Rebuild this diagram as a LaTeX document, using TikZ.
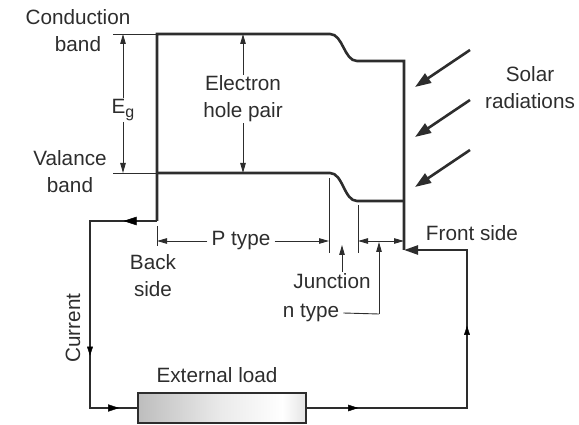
\documentclass[tikz,border=0pt]{standalone}
\usepackage{fontspec}
\setmainfont{Liberation Sans}
\usetikzlibrary{arrows.meta,decorations.markings}
\definecolor{ink}{RGB}{45,45,45}
\pgfdeclarehorizontalshading{loadshade}{100bp}{color(0bp)=(black!55); color(12bp)=(black!35); color(50bp)=(black!8); color(68bp)=(white); color(88bp)=(black!30); color(100bp)=(black!45)}
\tikzset{
  bandline/.style={draw=ink, line width=2.6pt, line join=miter},
  wire/.style={draw=ink, line width=2.4pt, line join=miter},
  thinline/.style={draw=ink, line width=0.9pt},
  thinarrow/.style={thinline, -{Triangle[length=10pt,width=5.5pt]}},
  thinboth/.style={thinline, {Triangle[length=10pt,width=5.5pt]}-{Triangle[length=10pt,width=5.5pt]}},
  lbl/.style={text=ink, font=\fontsize{20.7}{27}\selectfont, align=center, inner sep=1pt},
  sunray/.style={draw=ink, line width=2.6pt, -{Triangle[length=16pt,width=11pt]}},
  midarrow/.style 2 args={postaction={decorate}, decoration={markings,
      mark=at position #1 with {\arrow{Triangle[length=#2pt,width=0.65*#2pt]}}}},
}
\begin{document}
\begin{tikzpicture}[x=1pt,y=-1pt]
\useasboundingbox (0,0) rectangle (579,425);

% band diagram outline
\coordinate (bk) at (157,221);
\coordinate (tl) at (157,34);
\coordinate (cbA) at (330,34);
\coordinate (cbB) at (357,61);
\coordinate (tr) at (404,61);
\coordinate (fr) at (404,250);
\coordinate (vl) at (157,173);
\coordinate (vbA) at (330,173);
\coordinate (vbB) at (357,201);
\coordinate (vr) at (404,201);

\draw[bandline] (bk) -- (tl) -- (cbA) .. controls (343,34) and (344,61) .. (cbB) -- (tr) -- (fr);
\draw[bandline] (vl) -- (vbA) .. controls (343,173) and (344,201) .. (vbB) -- (vr);

% external circuit
\coordinate (c1) at (90,221);
\coordinate (c2) at (90,408);
\coordinate (c3) at (467,408);
\coordinate (c4) at (467,250);
\node[draw=ink, line width=2pt, minimum width=168pt, minimum height=30pt, inner sep=0pt,
      shading=loadshade] (load) at (222,408) {};
\draw[wire] (bk) -- (c1) -- (c2) -- (load.west);
\draw[wire] (load.east) -- (c3) -- (c4) -- ([xshift=12pt]fr);
\draw[wire, -{Triangle[length=14pt,width=9pt]}] ([xshift=16pt]fr) -- (fr);
\path[midarrow={0.50}{13}] (bk) -- (c1);
\path[midarrow={0.72}{9}] (c1) -- (c2);
\path[midarrow={0.62}{11}] (c2) -- (load.west);
\path[midarrow={0.32}{10}] (load.east) -- (c3);
\path[midarrow={0.52}{9}] (c3) -- (c4);

% labels
\node[lbl] (cond) at (78,31) {Conduction\\band};
\node[lbl] (val) at (70,172) {Valance\\band};
\node[lbl] (eg) at (123,110) {E\raisebox{-0.35ex}{\fontsize{16}{16}\selectfont g}};
\node[lbl] (ehp) at (243,99) {Electron\\hole pair};
\node[lbl] (solar) at (530,88) {Solar\\radiations};
\node[lbl] (front) at (472,233) {Front side};
\node[lbl] (back) at (153,276) {Back\\side};
\node[lbl] (ptype) at (241,241) {P type};
\node[lbl] (junc) at (332,281) {Junction};
\node[lbl] (ntype) at (311,313) {n type};
\node[lbl] (ext) at (217,375) {External load};
\node[lbl, rotate=90] (cur) at (73,328) {Current};

% energy gap
\coordinate (egT) at (123,34);
\coordinate (egB) at (123,173);
\coordinate (tkT) at (113,34);
\coordinate (tkB) at (113,173);
\draw[thinline] (tkT) -- (tl);
\draw[thinline] (tkB) -- (vl);
\draw[thinarrow] (eg.north) -- (egT);
\draw[thinarrow] (eg.south) -- (egB);

% electron hole pair
\coordinate (ehT) at (243,34);
\coordinate (ehB) at (243,173);
\draw[thinarrow] (ehp.north) -- (ehT);
\draw[thinarrow] (ehp.south) -- (ehB);

% solar rays
\foreach \i/\y in {1/50,2/100,3/150}{
  \coordinate (s\i) at (470,\y);
  \coordinate (e\i) at (415,\y+37);
  \draw[sunray] (s\i) -- (e\i);
}

% region markers
\coordinate (bkT) at (157,226);
\coordinate (bkB) at (157,246);
\coordinate (j1T) at (329,178);
\coordinate (j1B) at (329,253);
\coordinate (j2T) at (358,205);
\coordinate (j2B) at (358,253);
\draw[thinline] (bkT) -- (bkB);
\draw[thinline] (j1T) -- (j1B);
\draw[thinline] (j2T) -- (j2B);
\coordinate (pL) at (157,241);
\coordinate (pR) at (329,241);
\draw[thinarrow] ([xshift=-3pt]ptype.west) -- (pL);
\draw[thinarrow] ([xshift=3pt]ptype.east) -- (pR);
\coordinate (jT) at (342,245);
\draw[thinarrow] (junc.north -| jT) -- (jT);
\coordinate (nL) at (358,241);
\coordinate (nR) at (404,241);
\draw[thinboth] (nL) -- (nR);
\coordinate (nT) at (379,242);
\coordinate (nC) at (379,314);
\draw[thinline] ([xshift=3pt]ntype.east) -- (nC);
\draw[thinarrow] (nC) -- (nT);
\end{tikzpicture}
\end{document}
